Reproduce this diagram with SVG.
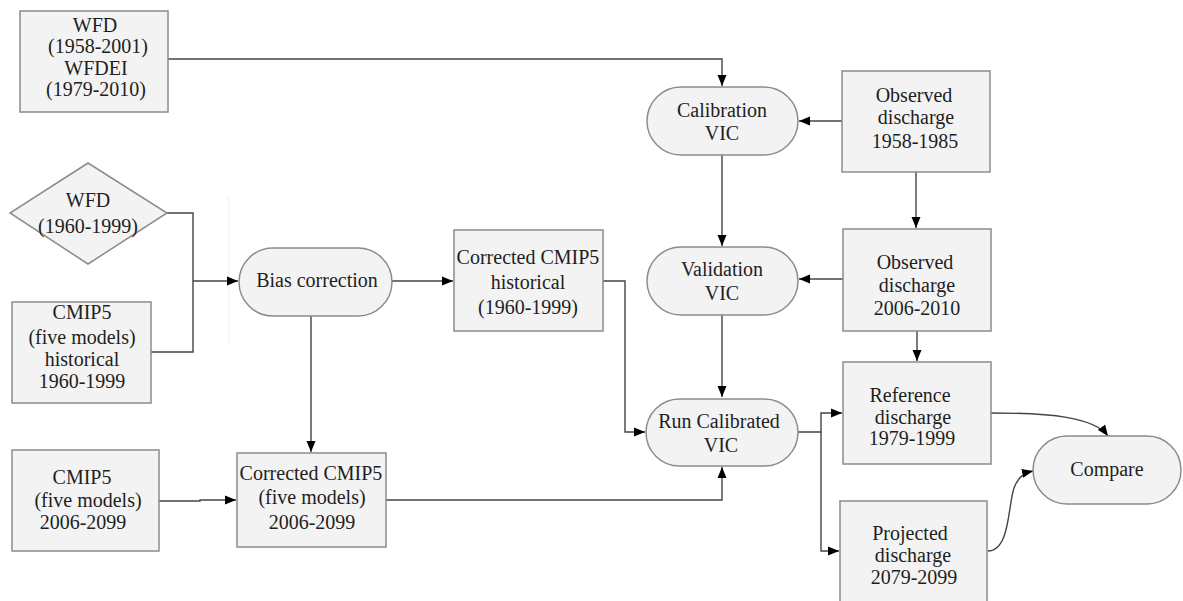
<svg xmlns="http://www.w3.org/2000/svg" width="1183" height="601" viewBox="0 0 1183 601">
<defs>
<style>
.box{fill:#f3f3f3;stroke:#8c8c8c;stroke-width:1.5}
.t{font-family:"Liberation Serif","Times New Roman",serif;font-size:20px;fill:#1e1e1e;text-anchor:middle}
.c{fill:none;stroke:#444;stroke-width:1.4}
</style>
<marker id="ah" markerWidth="12" markerHeight="10" refX="11" refY="5" orient="auto" markerUnits="userSpaceOnUse">
<path d="M0,0.5 L11,5 L0,9.5 Z" fill="#000"/>
</marker>
</defs>
<rect width="1183" height="601" fill="#fff"/>

<line x1="229" y1="197" x2="229" y2="345" stroke="#ededed" stroke-width="1"/>

<g id="connectors">
<path class="c" d="M168,59 H722 V86" marker-end="url(#ah)"/>
<path class="c" d="M842,121 H799" marker-end="url(#ah)"/>
<path class="c" d="M916,172 V228" marker-end="url(#ah)"/>
<path class="c" d="M843,279 H799" marker-end="url(#ah)"/>
<path class="c" d="M722,155 V246" marker-end="url(#ah)"/>
<path class="c" d="M722,315 V397" marker-end="url(#ah)"/>
<path class="c" d="M917,331 V361" marker-end="url(#ah)"/>
<path class="c" d="M167,213 H193 V352 H151"/>
<path class="c" d="M193,281 H238" marker-end="url(#ah)"/>
<path class="c" d="M392,281 H453" marker-end="url(#ah)"/>
<path class="c" d="M603,281 H625 V432 H645" marker-end="url(#ah)"/>
<path class="c" d="M311,316 V452" marker-end="url(#ah)"/>
<path class="c" d="M159,501 H200 V500 H236" marker-end="url(#ah)"/>
<path class="c" d="M386,500 H722 V467" marker-end="url(#ah)"/>
<path class="c" d="M798,432 H821 V413 H842" marker-end="url(#ah)"/>
<path class="c" d="M821,432 V551 H839" marker-end="url(#ah)"/>
<path class="c" d="M991,413 C1050,413 1094,417 1108,436" marker-end="url(#ah)"/>
<path class="c" d="M988,551 C1010,551 1008,505 1014,488 C1018,477 1024,473 1033,471" marker-end="url(#ah)"/>
</g>

<g id="wfd-wfdei">
<rect class="box" x="20" y="11" width="148" height="101"/>
<text class="t" x="95" y="32">WFD</text>
<text class="t" x="98" y="53">(1958-2001)</text>
<text class="t" x="96" y="75">WFDEI</text>
<text class="t" x="96" y="96">(1979-2010)</text>
</g>

<g id="calibration">
<rect class="box" x="647" y="87" width="151" height="68" rx="34" ry="34"/>
<text class="t" x="722" y="117">Calibration</text>
<text class="t" x="722" y="140">VIC</text>
</g>

<g id="observed1">
<rect class="box" x="842" y="71" width="148" height="101"/>
<text class="t" x="914" y="102">Observed</text>
<text class="t" x="916" y="124">discharge</text>
<text class="t" x="915" y="148">1958-1985</text>
</g>

<g id="wfd-diamond">
<polygon class="box" points="88,163 167,213 88,264 10,213"/>
<text class="t" x="88" y="207">WFD</text>
<text class="t" x="88" y="233">(1960-1999)</text>
</g>

<g id="bias">
<rect class="box" x="239" y="248" width="153" height="68" rx="34" ry="34"/>
<text class="t" x="317" y="287">Bias correction</text>
</g>

<g id="corrected-historical">
<rect class="box" x="454" y="230" width="149" height="101"/>
<text class="t" x="528" y="264">Corrected CMIP5</text>
<text class="t" x="528" y="289">historical</text>
<text class="t" x="528" y="314">(1960-1999)</text>
</g>

<g id="validation">
<rect class="box" x="647" y="247" width="151" height="68" rx="34" ry="34"/>
<text class="t" x="722" y="276">Validation</text>
<text class="t" x="722" y="300">VIC</text>
</g>

<g id="observed2">
<rect class="box" x="843" y="229" width="148" height="102"/>
<text class="t" x="915" y="269">Observed</text>
<text class="t" x="917" y="292">discharge</text>
<text class="t" x="917" y="315">2006-2010</text>
</g>

<g id="cmip5-historical">
<rect class="box" x="12" y="302" width="139" height="101"/>
<text class="t" x="82" y="319">CMIP5</text>
<text class="t" x="82" y="344">(five models)</text>
<text class="t" x="82" y="366">historical</text>
<text class="t" x="82" y="388">1960-1999</text>
</g>

<g id="run-calibrated">
<rect class="box" x="646" y="399" width="152" height="67" rx="33.5" ry="33.5"/>
<text class="t" x="719" y="428">Run Calibrated</text>
<text class="t" x="721" y="452">VIC</text>
</g>

<g id="reference">
<rect class="box" x="843" y="362" width="148" height="102"/>
<text class="t" x="910" y="402">Reference</text>
<text class="t" x="913" y="424">discharge</text>
<text class="t" x="912" y="445">1979-1999</text>
</g>

<g id="compare">
<rect class="box" x="1033" y="436" width="148" height="68" rx="34" ry="34"/>
<text class="t" x="1107" y="476">Compare</text>
</g>

<g id="cmip5-future">
<rect class="box" x="12" y="450" width="147" height="101"/>
<text class="t" x="82" y="484">CMIP5</text>
<text class="t" x="88" y="507">(five models)</text>
<text class="t" x="83" y="529">2006-2099</text>
</g>

<g id="corrected-five">
<rect class="box" x="237" y="453" width="149" height="94"/>
<text class="t" x="311" y="480">Corrected CMIP5</text>
<text class="t" x="312" y="504">(five models)</text>
<text class="t" x="312" y="529">2006-2099</text>
</g>

<g id="projected">
<rect class="box" x="840" y="501" width="147" height="101"/>
<text class="t" x="910" y="540">Projected</text>
<text class="t" x="913" y="562">discharge</text>
<text class="t" x="914" y="584">2079-2099</text>
</g>
</svg>
